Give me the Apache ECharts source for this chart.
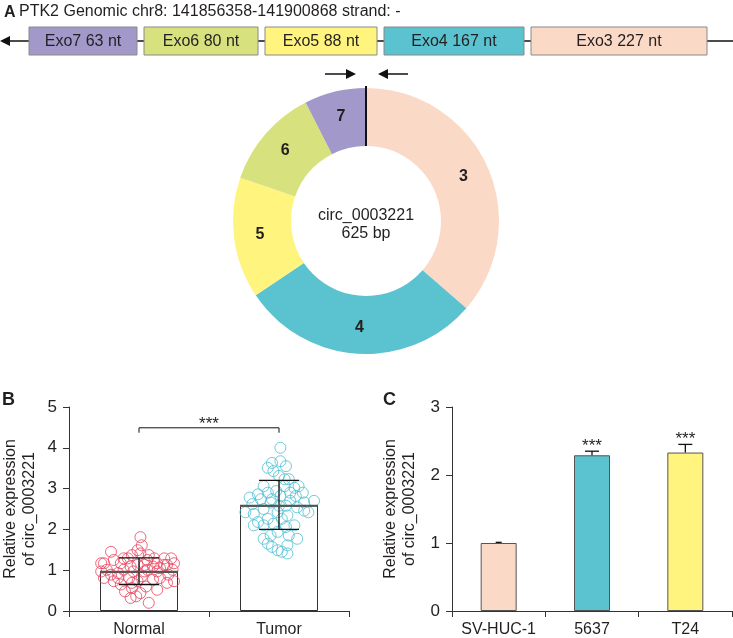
<!DOCTYPE html>
<html>
<head>
<meta charset="utf-8">
<script src="https://cdn.jsdelivr.net/npm/echarts@6/dist/echarts.min.js"></script>
<style>
  html, body { margin: 0; padding: 0; background: #fff; }
  #chart { width: 733px; height: 638px; }
</style>
</head>
<body>
<div id="chart"></div>
<script>
// ---- data ----
const exonNames = ['Exo7', 'Exo6', 'Exo5', 'Exo4', 'Exo3'];
const exonLengths = [63, 80, 88, 167, 227];
// schematic track (0..733 units), box start / end
const exonTrackStart = [29, 144, 265, 384, 531];
const exonTrackEnd = [137, 258, 377, 524, 707];

// donut: exon names and the arc each one takes in the drawing (degrees)
const donutExons = ['3', '4', '5', '6', '7'];
const donutArcs = [131, 105, 53, 44, 27];

const groups = ['Normal', 'Tumor'];
const groupMean = [0.96, 2.58];
const groupSdLow = [0.65, 2.0];
const groupSdHigh = [1.30, 3.20];
// [offset inside category, value]
const normalPoints = [
  [0.01, 1.81], [0.02, 1.61], [-0.01, 1.49], [-0.20, 1.45], [-0.25, 1.17], [-0.18, 1.25],
  [-0.11, 1.29], [-0.05, 1.37], [0.01, 1.41], [0.07, 1.37], [0.18, 1.29], [0.23, 1.29],
  [0.25, 1.17], [0.20, 1.13], [0.13, 1.17], [0.10, 1.09], [0.06, 1.01], [-0.25, 0.81],
  [-0.20, 0.89], [-0.15, 0.81], [-0.11, 1.01], [-0.06, 1.09], [-0.13, 1.17], [-0.04, 0.97],
  [-0.01, 1.13], [0.04, 1.13], [-0.07, 0.81], [-0.13, 0.65], [-0.10, 0.48], [-0.05, 0.56],
  [-0.02, 0.36], [0.01, 0.44], [0.05, 0.60], [0.07, 0.20], [0.13, 0.52], [0.10, 0.77],
  [0.15, 0.81], [0.20, 0.69], [0.25, 0.73], [0.21, 0.89], [0.13, 0.97], [0.15, 1.05],
  [-0.23, 1.01], [-0.27, 0.97], [-0.18, 0.73], [-0.01, 0.73], [0.02, 0.85], [0.06, 1.25],
  [0.11, 1.29], [-0.15, 0.93], [-0.06, 0.32], [-0.08, 1.29], [-0.27, 1.17], [0.18, 1.13],
  [0.24, 1.01], [-0.05, 0.69], [0.04, 0.97]
];
const tumorPoints = [
  [0.01, 4.00], [-0.08, 3.51], [-0.05, 3.63], [0.01, 3.67], [0.05, 3.55], [-0.04, 3.43],
  [0.00, 3.31], [0.07, 3.23], [-0.11, 3.06], [-0.15, 2.86], [-0.21, 2.78], [-0.19, 2.62],
  [-0.24, 2.42], [-0.18, 2.38], [-0.11, 2.50], [-0.06, 2.66], [-0.08, 2.90], [-0.02, 2.94],
  [0.04, 3.06], [0.11, 3.02], [0.14, 3.06], [0.17, 2.90], [0.12, 2.82], [0.08, 2.70],
  [0.05, 2.58], [0.13, 2.54], [0.18, 2.66], [0.25, 2.70], [0.21, 2.42], [-0.01, 2.42],
  [0.02, 2.26], [-0.04, 2.14], [-0.11, 2.10], [-0.15, 2.18], [0.05, 2.06], [0.11, 2.10],
  [-0.01, 1.94], [-0.06, 1.85], [-0.11, 1.77], [0.07, 1.85], [0.13, 1.77], [-0.08, 1.65],
  [-0.05, 1.57], [-0.01, 1.49], [0.02, 1.45], [0.06, 1.41], [0.06, 1.61], [-0.05, 2.74],
  [0.01, 2.82], [-0.13, 2.74], [0.06, 2.34], [-0.08, 2.26], [0.08, 2.90], [0.00, 2.58],
  [0.18, 2.46], [-0.18, 2.10], [0.04, 3.23]
];
const bracketLow = 4.37;
const bracketHigh = 4.49;

const cellLines = ['SV-HUC-1', '5637', 'T24'];
const cellMean = [1.0, 2.29, 2.33];
const cellErr = [0.01, 0.06, 0.12];
const cellSig = ['', '***', '***'];

// ---- style ----
const FONT = 'Arial, "Liberation Sans", Helvetica, sans-serif';
const INK = '#231F20';
const exonColors = ['#A398CA', '#D7E27F', '#FFF47E', '#5BC2CF', '#FAD9C6'];
const donutColors = ['#FAD9C6', '#5BC2CF', '#FFF47E', '#D7E27F', '#A398CA'];
const cellColors = ['#FAD9C6', '#5BC2CF', '#FFF47E'];

const chart = echarts.init(document.getElementById('chart'), null, { renderer: 'canvas' });

const axisBase = {
  axisLine: { show: true, onZero: false, lineStyle: { color: '#333', width: 1 } },
  axisTick: { show: true, length: 6, lineStyle: { color: '#333' } },
  axisLabel: { color: INK, fontSize: 17, fontFamily: FONT, margin: 12 },
  splitLine: { show: false }
};
const catAxis = (grid, data) => Object.assign({}, axisBase, {
  gridIndex: grid, type: 'category', data: data,
  axisTick: { show: true, length: 6, alignWithLabel: false, lineStyle: { color: '#333' } },
  axisLabel: Object.assign({}, axisBase.axisLabel, { fontSize: 16, margin: 11, interval: 0 })
});
const valAxis = (grid, max) => Object.assign({}, axisBase, {
  gridIndex: grid, type: 'value', min: 0, max: max, interval: 1,
  name: 'Relative expression\nof circ_0003221', nameLocation: 'middle', nameRotate: 90,
  nameGap: grid === 1 ? 30 : 33,
  nameTextStyle: { color: INK, fontSize: 16, fontFamily: FONT, lineHeight: 19 }
});

const option = {
  animation: false,
  backgroundColor: '#fff',
  textStyle: { fontFamily: FONT },
  grid: [
    { left: 0, top: 27, width: 733, height: 28 },
    { left: 68, top: 407, width: 281, height: 206 },
    { left: 452, top: 407, width: 280, height: 206 }
  ],
  xAxis: [
    { gridIndex: 0, type: 'value', min: 0, max: 733, show: false },
    catAxis(1, groups),
    { gridIndex: 1, type: 'value', min: -0.5, max: 1.5, show: false },
    catAxis(2, cellLines)
  ],
  yAxis: [
    { gridIndex: 0, type: 'value', min: 0, max: 1, show: false },
    valAxis(1, 5),
    valAxis(2, 3)
  ],
  graphic: [
    { type: 'text', left: 4, top: 5, style: { text: 'A', font: 'bold 16px ' + FONT, fill: INK } },
    { type: 'text', left: 19, top: 4, style: { text: 'PTK2 Genomic chr8: 141856358-141900868 strand: -', font: '16px ' + FONT, fill: INK } },
    // backbone
    { type: 'line', z: 1, shape: { x1: 2, y1: 41, x2: 733, y2: 41 }, style: { stroke: '#111', lineWidth: 1.5 } },
    { type: 'polygon', z: 1, shape: { points: [[0, 41], [10, 36], [10, 46]] }, style: { fill: '#111' } },
    // primers
    { type: 'line', shape: { x1: 325, y1: 74, x2: 350, y2: 74 }, style: { stroke: '#111', lineWidth: 1.5 } },
    { type: 'polygon', shape: { points: [[356, 74], [346, 69], [346, 79]] }, style: { fill: '#111' } },
    { type: 'line', shape: { x1: 384, y1: 74, x2: 408, y2: 74 }, style: { stroke: '#111', lineWidth: 1.5 } },
    { type: 'polygon', shape: { points: [[378, 74], [388, 69], [388, 79]] }, style: { fill: '#111' } },
    // donut junction + centre text
    { type: 'line', z: 10, shape: { x1: 366, y1: 86, x2: 366, y2: 146 }, style: { stroke: '#111', lineWidth: 2 } },
    { type: 'text', x: 366, y: 225, style: { text: 'circ_0003221\n625 bp', font: '16px ' + FONT, fill: INK, align: 'center', verticalAlign: 'middle', lineHeight: 18 } },
    { type: 'text', left: 2, top: 391, style: { text: 'B', font: 'bold 18px ' + FONT, fill: INK } },
    { type: 'text', left: 383, top: 391, style: { text: 'C', font: 'bold 18px ' + FONT, fill: INK } }
  ],
  series: [
    {
      type: 'custom', xAxisIndex: 0, yAxisIndex: 0, z: 5,
      data: exonNames.map((n, i) => [exonTrackStart[i], exonTrackEnd[i], i]),
      renderItem: (params, api) => {
        const i = api.value(2);
        const p0 = api.coord([api.value(0), 1]);
        const p1 = api.coord([api.value(1), 0]);
        return {
          type: 'group',
          children: [
            { type: 'rect', shape: { x: p0[0], y: p0[1], width: p1[0] - p0[0], height: p1[1] - p0[1] },
              style: { fill: exonColors[i], stroke: '#8a8a8a', lineWidth: 1 } },
            { type: 'text', style: { x: (p0[0] + p1[0]) / 2, y: (p0[1] + p1[1]) / 2 + 1,
              text: exonNames[i] + ' ' + exonLengths[i] + ' nt', font: '16px ' + FONT, fill: INK,
              align: 'center', verticalAlign: 'middle' } }
          ]
        };
      }
    },
    {
      type: 'pie', center: [366, 221], radius: [75, 133], startAngle: 90, clockwise: true,
      silent: true, emphasis: { disabled: true },
      label: { show: true, position: 'inside', formatter: '{b}', color: INK, fontSize: 16, fontWeight: 'bold', fontFamily: FONT },
      labelLine: { show: false },
      itemStyle: { borderWidth: 0 },
      data: donutExons.map((n, i) => ({ name: n, value: donutArcs[i], itemStyle: { color: donutColors[i] } }))
    },
    {
      type: 'bar', xAxisIndex: 1, yAxisIndex: 1, barWidth: 78, z: 1,
      itemStyle: { color: '#fff', borderColor: '#333', borderWidth: 1 },
      data: groupMean
    },
    {
      type: 'scatter', xAxisIndex: 2, yAxisIndex: 1, symbol: 'circle', symbolSize: 11, z: 3,
      itemStyle: { color: 'rgba(255,255,255,0)', borderColor: '#E9445E', borderWidth: 1 },
      data: normalPoints.map(p => [0 + p[0], p[1]])
    },
    {
      type: 'scatter', xAxisIndex: 2, yAxisIndex: 1, symbol: 'circle', symbolSize: 11, z: 3,
      itemStyle: { color: 'rgba(255,255,255,0)', borderColor: '#4CBFD2', borderWidth: 1 },
      data: tumorPoints.map(p => [1 + p[0], p[1]])
    },
    {
      type: 'custom', xAxisIndex: 1, yAxisIndex: 1, z: 6,
      data: groups.map((g, i) => [i, groupSdLow[i], groupSdHigh[i], groupMean[i]]),
      renderItem: (params, api) => {
        const lo = api.coord([api.value(0), api.value(1)]);
        const hi = api.coord([api.value(0), api.value(2)]);
        const mid = api.coord([api.value(0), api.value(3)]);
        const w = 20;
        const st = { stroke: '#111', lineWidth: 1.3 };
        return {
          type: 'group',
          children: [
            { type: 'line', shape: { x1: hi[0], y1: hi[1], x2: lo[0], y2: lo[1] }, style: st },
            { type: 'line', shape: { x1: hi[0] - w, y1: hi[1], x2: hi[0] + w, y2: hi[1] }, style: st },
            { type: 'line', shape: { x1: lo[0] - w, y1: lo[1], x2: lo[0] + w, y2: lo[1] }, style: st },
            { type: 'line', shape: { x1: mid[0] - 39, y1: mid[1], x2: mid[0] + 39, y2: mid[1] }, style: { stroke: '#555', lineWidth: 2 } }
          ]
        };
      }
    },
    {
      type: 'custom', xAxisIndex: 1, yAxisIndex: 1, z: 6,
      data: [[0, 1, bracketLow, bracketHigh]],
      renderItem: (params, api) => {
        const a = api.coord([api.value(0), api.value(2)]);
        const b = api.coord([api.value(0), api.value(3)]);
        const c = api.coord([api.value(1), api.value(3)]);
        const d = api.coord([api.value(1), api.value(2)]);
        return {
          type: 'group',
          children: [
            { type: 'polyline', shape: { points: [a, b, c, d] }, style: { stroke: '#111', lineWidth: 1, fill: null } },
            { type: 'text', style: { x: (b[0] + c[0]) / 2, y: b[1] - 3, text: '***', font: '17px ' + FONT, fill: INK, align: 'center', verticalAlign: 'middle' } }
          ]
        };
      }
    },
    {
      type: 'bar', xAxisIndex: 3, yAxisIndex: 2, barWidth: 36, z: 2,
      itemStyle: { borderColor: '#555', borderWidth: 1 },
      data: cellMean.map((v, i) => ({ value: v, itemStyle: { color: cellColors[i] } }))
    },
    {
      type: 'custom', xAxisIndex: 3, yAxisIndex: 2, z: 6,
      data: cellLines.map((c, i) => [i, cellMean[i], cellMean[i] + cellErr[i]]),
      renderItem: (params, api) => {
        const i = params.dataIndex;
        const m = api.coord([api.value(0), api.value(1)]);
        const t = api.coord([api.value(0), api.value(2)]);
        const w = i === 0 ? 3 : 7;
        const st = { stroke: '#111', lineWidth: 1.3 };
        return {
          type: 'group',
          children: [
            { type: 'line', shape: { x1: m[0], y1: m[1], x2: t[0], y2: t[1] }, style: st },
            { type: 'line', shape: { x1: t[0] - w, y1: t[1], x2: t[0] + w, y2: t[1] }, style: st },
            { type: 'text', style: { x: t[0], y: t[1] - 5, text: cellSig[i], font: '17px ' + FONT, fill: INK, align: 'center', verticalAlign: 'middle' } }
          ]
        };
      }
    }
  ]
};

chart.setOption(option);
</script>
</body>
</html>
